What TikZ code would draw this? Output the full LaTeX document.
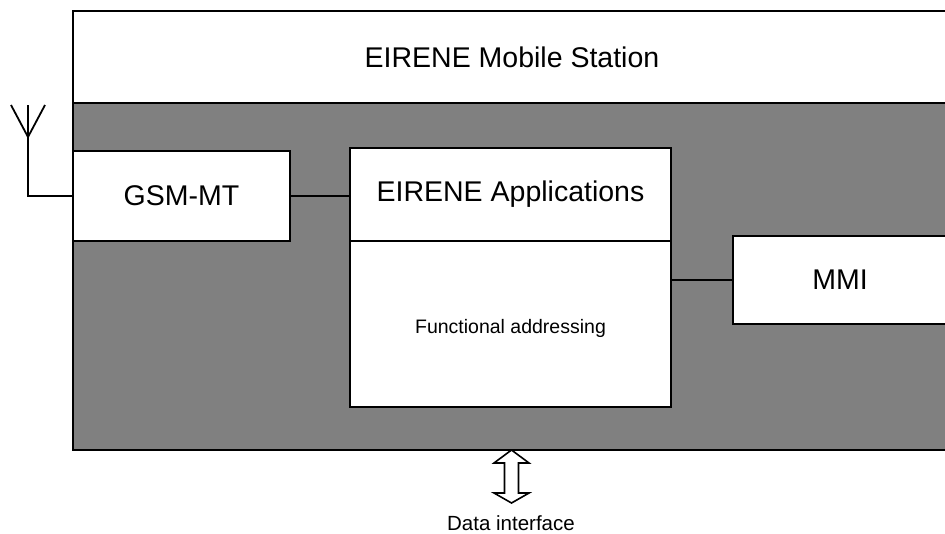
\documentclass[tikz,border=0pt]{standalone}
\usepackage{fontspec}
\setmainfont{Liberation Sans}
\definecolor{bodygray}{HTML}{808080}
\begin{document}
\begin{tikzpicture}[x=1pt,y=-1pt,line width=2pt,
  box/.style={draw,fill=white,inner sep=0pt,outer sep=0pt},
  big/.style={font=\fontsize{28.5}{34}\selectfont},
  small/.style={font=\fontsize{19.5}{23}\selectfont},
  wire/.style={line width=1.8pt}]
\useasboundingbox (0,0) rectangle (945,533);
\clip (0,0) rectangle (945,533);
\node[box,big,minimum width=878pt,minimum height=92pt,anchor=north west] (station) at (73,11) {EIRENE Mobile Station};
\node[draw,fill=bodygray,inner sep=0pt,outer sep=0pt,minimum width=878pt,minimum height=347pt,anchor=north west] (body) at (73,103) {};
\node[box,big,minimum width=217pt,minimum height=90pt,anchor=north west] (gsm) at (73,151) {GSM-MT};
\node[box,big,minimum width=321pt,minimum height=93pt,anchor=north west] (apps) at (350,148) {EIRENE Applications};
\node[box,minimum width=321pt,minimum height=166pt,anchor=north] (func) at (apps.south) {};
\node[small,inner sep=0pt] (funclbl) at ([yshift=-4pt]func.center) {Functional addressing};
\node[box,big,minimum width=214pt,minimum height=88pt,anchor=north west] (mmi) at (733,236) {MMI};
\draw[wire] (gsm.east) -- (gsm.east -| apps.west);
\draw[wire] (mmi.west) -- (mmi.west -| func.east);
% antenna
\draw[wire] (gsm.west) -- ++(-45,0) coordinate (ant) -- ++(0,-91) coordinate (anttop);
\draw[wire] (anttop) ++(-17,0) -- ++(17,32) -- ++(17,-32);
% data interface arrow
\coordinate (da) at (511.5,477);
\draw[fill=white,line width=1.6pt,shift={(da)}] (0,-27) -- (17.5,-14) -- (7,-14) -- (7,16) -- (17.5,16) -- (0,26) -- (-17.5,16) -- (-7,16) -- (-7,-14) -- (-17.5,-14) -- cycle;
\node[font=\fontsize{20.5}{24}\selectfont] (dl) at (511,523) {Data interface};
\end{tikzpicture}
\end{document}
